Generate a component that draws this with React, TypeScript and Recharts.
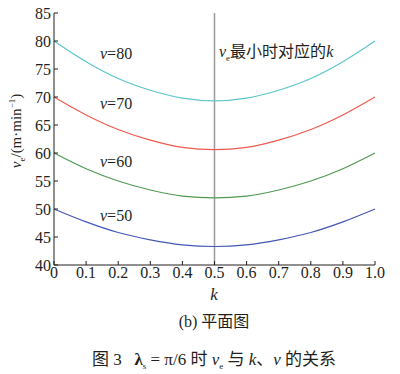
import { Line, LineChart, ReferenceLine, XAxis, YAxis } from "recharts";

const kValues = [0, 0.1, 0.2, 0.3, 0.4, 0.5, 0.6, 0.7, 0.8, 0.9, 1.0];
const ve50 = [50, 47.7, 45.8, 44.5, 43.6, 43.3, 43.6, 44.5, 45.8, 47.7, 50];
const ve60 = [60, 57.2, 55.0, 53.4, 52.3, 52.0, 52.3, 53.4, 55.0, 57.2, 60];
const ve70 = [70, 66.8, 64.2, 62.3, 61.0, 60.6, 61.0, 62.3, 64.2, 66.8, 70];
const ve80 = [80, 76.3, 73.3, 71.2, 69.8, 69.3, 69.8, 71.2, 73.3, 76.3, 80];
const xTicks = [0, 0.1, 0.2, 0.3, 0.4, 0.5, 0.6, 0.7, 0.8, 0.9, 1.0];
const yTicks = [40, 45, 50, 55, 60, 65, 70, 75, 80, 85];

const data = kValues.map((k, i) => ({ k, v50: ve50[i], v60: ve60[i], v70: ve70[i], v80: ve80[i] }));

const serif = '"Liberation Serif", "Times New Roman", "DejaVu Serif", serif';
const cjk = '"Liberation Serif", "Times New Roman", "Noto Sans CJK SC", serif';
const ink = "#231f20";

const curveLabels = [
  { text: "80", left: 100, top: 45 },
  { text: "70", left: 100, top: 95 },
  { text: "60", left: 100, top: 153 },
  { text: "50", left: 100, top: 207 }
];

export default function App() {
  return (
    <div style={{ position: "absolute", left: 0, top: 0, width: 400, height: 374, background: "#fff", fontFamily: serif, color: ink }}>
      <LineChart width={400} height={300} data={data} margin={{ top: 13, right: 25, bottom: 5, left: 4 }} style={{ fontFamily: serif }}>
        <XAxis
          dataKey="k"
          type="number"
          domain={[0, 1]}
          ticks={xTicks}
          tickFormatter={(v: number) => (v === 0 ? "0" : v.toFixed(1))}
          height={30}
          tickSize={-4}
          tickMargin={6}
          stroke={ink}
          tick={{ fill: ink, fontSize: 16, fontFamily: serif }}
        />
        <YAxis
          type="number"
          domain={[40, 85]}
          ticks={yTicks}
          width={50}
          tickSize={-4}
          tickMargin={7}
          stroke={ink}
          tick={{ fill: ink, fontSize: 16, fontFamily: serif }}
        />
        <ReferenceLine x={0.5} stroke="#9a9a9a" strokeWidth={1.5} />
        <Line dataKey="v80" type="monotone" stroke="#5cc6cb" strokeWidth={1.2} dot={false} isAnimationActive={false} />
        <Line dataKey="v70" type="monotone" stroke="#ef5a4f" strokeWidth={1.2} dot={false} isAnimationActive={false} />
        <Line dataKey="v60" type="monotone" stroke="#4f9a52" strokeWidth={1.2} dot={false} isAnimationActive={false} />
        <Line dataKey="v50" type="monotone" stroke="#4557b5" strokeWidth={1.2} dot={false} isAnimationActive={false} />
      </LineChart>

      {curveLabels.map((c) => (
        <div key={c.text} style={{ position: "absolute", left: c.left, top: c.top, fontSize: 16 }}>
          <i>v</i>={c.text}
        </div>
      ))}

      <div style={{ position: "absolute", left: 219, top: 38, fontSize: 16, fontFamily: cjk, whiteSpace: "nowrap" }}>
        <i>v</i><sub style={{ fontSize: 9 }}>e</sub>最小时对应的<i>k</i>
      </div>

      <div
        style={{
          position: "absolute",
          left: 17,
          top: 131,
          transform: "translate(-50%, -50%) rotate(-90deg)",
          fontSize: 15,
          whiteSpace: "nowrap"
        }}
      >
        <i>v</i><sub style={{ fontSize: 9 }}>e</sub>/(m·min<sup style={{ fontSize: 9 }}>−1</sup>)
      </div>

      <div style={{ position: "absolute", left: 0, width: 428, top: 285, textAlign: "center", fontSize: 17 }}>
        <i>k</i>
      </div>
      <div style={{ position: "absolute", left: 0, width: 428, top: 308, textAlign: "center", fontSize: 16, fontFamily: cjk }}>
        (b) 平面图
      </div>
      <div style={{ position: "absolute", left: 0, width: 428, top: 345, textAlign: "center", fontSize: 17, fontFamily: cjk, whiteSpace: "nowrap" }}>
        图 3&nbsp;&nbsp;&nbsp;<b>λ</b><sub style={{ fontSize: 9 }}>s</sub> = π/6 时 <i>v</i><sub style={{ fontSize: 9 }}>e</sub> 与 <i>k</i>、<i>v</i> 的关系
      </div>
    </div>
  );
}
